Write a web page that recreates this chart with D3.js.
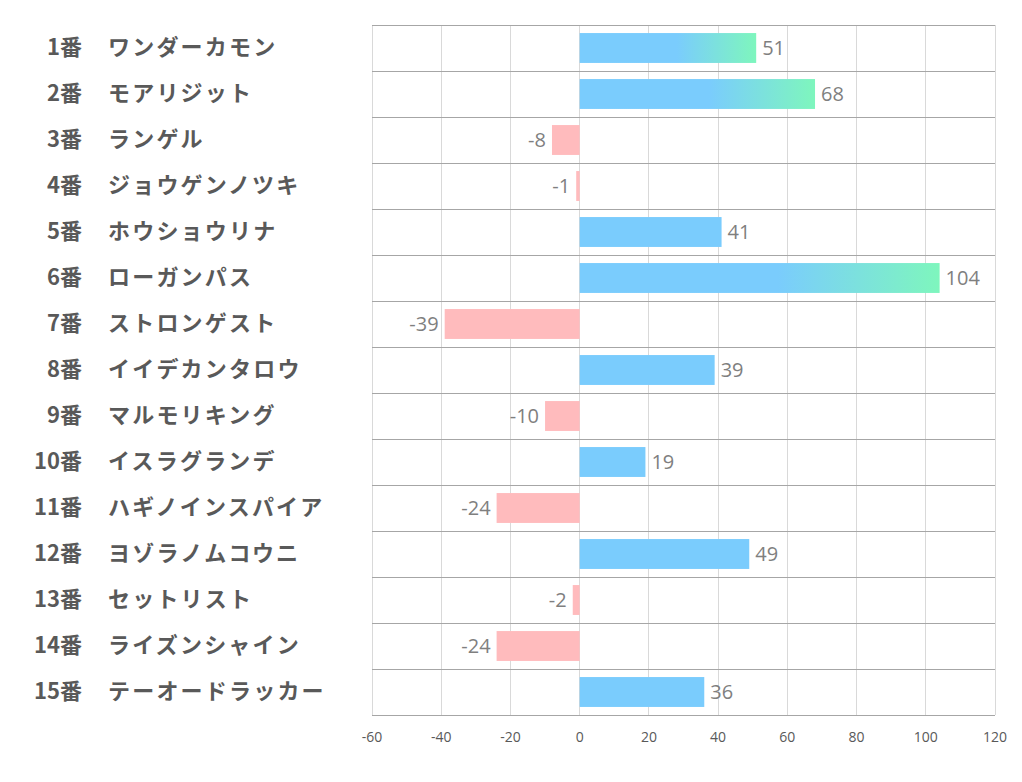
<!DOCTYPE html>
<html><head><meta charset="utf-8">
<script src="https://cdn.jsdelivr.net/npm/d3@7"></script>
<style>body{margin:0;background:#fff}</style>
</head><body>
<svg id="c" width="1022" height="782"></svg>
<script>
const numbers = ["1番","2番","3番","4番","5番","6番","7番","8番","9番","10番","11番","12番","13番","14番","15番"];
const names = ["ワンダーカモン","モアリジット","ランゲル","ジョウゲンノツキ","ホウショウリナ","ローガンパス","ストロンゲスト","イイデカンタロウ","マルモリキング","イスラグランデ","ハギノインスパイア","ヨゾラノムコウニ","セットリスト","ライズンシャイン","テーオードラッカー"];
const values = [51,68,-8,-1,41,104,-39,39,-10,19,-24,49,-2,-24,36];
const ticks = [-60,-40,-20,0,20,40,60,80,100,120];

const svg = d3.select("#c");
const L=372, R=995, T=25, B=715;
const x = d3.scaleLinear().domain([-60,120]).range([L,R]);
const y = d3.scaleBand().domain(d3.range(values.length)).range([T,B]).paddingInner(0.35).paddingOuter(0.175);
const rowH = (B-T)/values.length;

const defs = svg.append("defs");
values.forEach((v,i)=>{
  if(v>=50){
    const g = defs.append("linearGradient").attr("id","g"+i).attr("x1","0%").attr("x2","100%");
    g.append("stop").attr("offset","55%").attr("stop-color","#7accfd");
    g.append("stop").attr("offset","100%").attr("stop-color","#7ef6bd");
  }
});

svg.append("g").selectAll("line").data(ticks).join("line")
  .attr("x1",d=>x(d)).attr("x2",d=>x(d)).attr("y1",T).attr("y2",B)
  .attr("stroke","#d9d9d9").attr("stroke-width",1).attr("shape-rendering","crispEdges");
svg.append("g").selectAll("line").data(d3.range(values.length+1)).join("line")
  .attr("x1",L).attr("x2",R).attr("y1",i=>T+i*rowH).attr("y2",i=>T+i*rowH)
  .attr("stroke","#a6a6a6").attr("stroke-width",1).attr("shape-rendering","crispEdges");

svg.append("g").selectAll("rect").data(values).join("rect")
  .attr("x",d=>x(Math.min(0,d))).attr("width",d=>Math.abs(x(d)-x(0)))
  .attr("y",(d,i)=>y(i)).attr("height",y.bandwidth())
  .attr("fill",(d,i)=> d>=50 ? `url(#g${i})` : d<0 ? "#ffbbbd" : "#7accfd");

svg.append("g").selectAll("text").data(values).join("text")
  .attr("x",d=> d>=0 ? x(d)+6 : x(d)-6)
  .attr("y",(d,i)=>y(i)+y.bandwidth()/2+2)
  .attr("text-anchor",d=> d>=0 ? "start":"end")
  .attr("dominant-baseline","middle")
  .attr("font-family","'Open Sans', 'Liberation Sans', sans-serif")
  .attr("font-size",20).attr("fill","#7f7f7f")
  .text(d=>d);

const lab = svg.append("g").attr("font-family","'Noto Sans CJK JP', sans-serif").attr("font-weight","bold").attr("font-size",22).attr("fill","#595959");
lab.selectAll("text.num").data(numbers).join("text").attr("class","num")
  .attr("x",82).attr("y",(d,i)=>y(i)+y.bandwidth()/2+1).attr("text-anchor","end").attr("dominant-baseline","middle").text(d=>d);
lab.selectAll("text.nm").data(names).join("text").attr("class","nm")
  .attr("x",108).attr("y",(d,i)=>y(i)+y.bandwidth()/2+1).attr("text-anchor","start").attr("dominant-baseline","middle")
  .attr("letter-spacing",2.2).text(d=>d);

svg.append("g").selectAll("text").data(ticks).join("text")
  .attr("x",d=>x(d)).attr("y",738).attr("text-anchor","middle").attr("dominant-baseline","middle")
  .attr("font-family","'Open Sans', 'Liberation Sans', sans-serif").attr("font-size",14).attr("fill","#595959")
  .text(d=>d);
</script>
</body></html>
